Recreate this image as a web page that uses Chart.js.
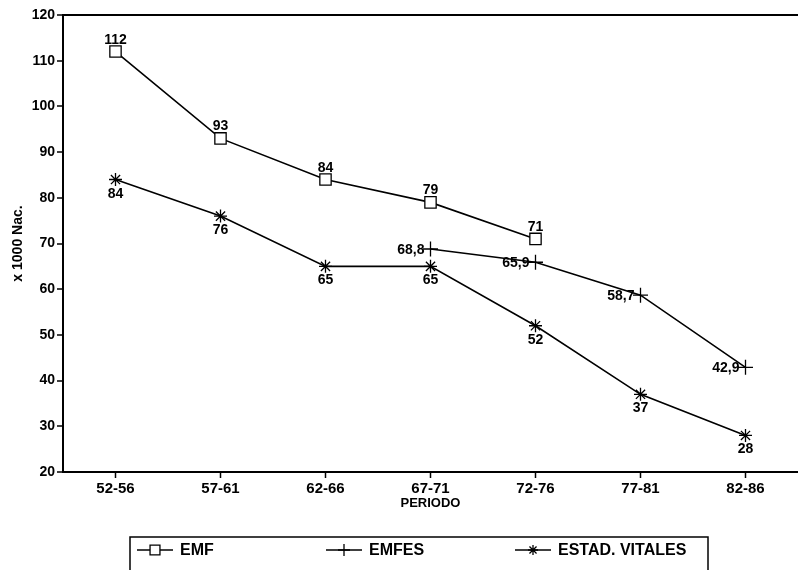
<!DOCTYPE html>
<html><head><meta charset="utf-8">
<script src="https://cdn.jsdelivr.net/npm/chart.js@4/dist/chart.umd.min.js"></script>
<style>html,body{margin:0;padding:0;background:#fff}</style>
</head><body>
<canvas id="c" width="798" height="570"></canvas>
<script>
const periods = ['52-56', '57-61', '62-66', '67-71', '72-76', '77-81', '82-86'];
const emf = [112, 93, 84, 79, 71, null, null];
const emfes = [null, null, null, 68.8, 65.9, 58.7, 42.9];
const estadVitales = [84, 76, 65, 65, 52, 37, 28];
const yMin = 20, yMax = 120, yStep = 10;
const yTitle = 'x 1000 Nac.';
const xTitle = 'PERIODO';

const FONT = '"Liberation Sans", Arial, Helvetica, sans-serif';

const valueLabels = {
  id: 'valueLabels',
  afterDatasetsDraw(chart) {
    const ctx = chart.ctx;
    ctx.save();
    ctx.fillStyle = '#000';
    ctx.font = 'bold 14px ' + FONT;
    chart.data.datasets.forEach((ds, i) => {
      const meta = chart.getDatasetMeta(i);
      meta.data.forEach((pt, j) => {
        const v = ds.data[j];
        if (v === null || v === undefined) return;
        const txt = ds.decimals ? v.toFixed(1).replace('.', ',') : String(v);
        if (ds.labelPos === 'above') {
          ctx.textAlign = 'center'; ctx.textBaseline = 'alphabetic';
          ctx.fillText(txt, pt.x, pt.y - 8);
        } else if (ds.labelPos === 'below') {
          ctx.textAlign = 'center'; ctx.textBaseline = 'alphabetic';
          ctx.fillText(txt, pt.x, pt.y + 18);
        } else {
          ctx.textAlign = 'right'; ctx.textBaseline = 'middle';
          ctx.fillText(txt, pt.x - 6, pt.y + 1);
        }
      });
    });
    ctx.restore();
  }
};

const boxLegend = {
  id: 'boxLegend',
  afterDraw(chart) {
    const ctx = chart.ctx;
    const left = 130, top = 537, right = 708, y = 550;
    ctx.save();
    ctx.strokeStyle = '#000';
    ctx.lineWidth = 1.5;
    ctx.strokeRect(left, top, right - left, 60);
    ctx.font = 'bold 16px ' + FONT;
    ctx.textAlign = 'left';
    ctx.textBaseline = 'middle';
    chart.data.datasets.forEach((ds, i) => {
      const x0 = 137 + i * 189;
      ctx.lineWidth = 1.3;
      ctx.beginPath();
      ctx.moveTo(x0, y); ctx.lineTo(x0 + 36, y);
      ctx.stroke();
      ctx.fillStyle = '#fff';
      Chart.helpers.drawPoint(ctx, { pointStyle: ds.pointStyle, radius: ds.legendRadius, borderWidth: 1.2, rotation: 0 }, x0 + 18, y);
      ctx.fillStyle = '#000';
      ctx.fillText(ds.label, x0 + 43, y + 1);
    });
    ctx.restore();
  }
};

const common = {
  borderColor: '#000', borderWidth: 1.6, pointBorderColor: '#000',
  pointBackgroundColor: '#fff', pointBorderWidth: 1.3, tension: 0, spanGaps: false,
  fill: false
};

new Chart(document.getElementById('c'), {
  type: 'line',
  data: {
    labels: periods,
    datasets: [
      Object.assign({ label: 'EMF', data: emf, pointStyle: 'rect', pointRadius: 8, legendRadius: 7, labelPos: 'above' }, common),
      Object.assign({ label: 'EMFES', data: emfes, pointStyle: 'cross', pointRadius: 7.5, legendRadius: 6, labelPos: 'left', decimals: true }, common),
      Object.assign({ label: 'ESTAD. VITALES', data: estadVitales, pointStyle: 'star', pointRadius: 6.5, legendRadius: 5, labelPos: 'below' }, common)
    ]
  },
  options: {
    responsive: false,
    animation: false,
    devicePixelRatio: 1,
    layout: { autoPadding: false, padding: { top: 15, bottom: 59, left: 0, right: -2 } },
    plugins: { legend: { display: false }, tooltip: { enabled: false } },
    scales: {
      x: {
        offset: true,
        grid: { drawOnChartArea: false, drawTicks: true, tickLength: 6, tickColor: '#000', tickWidth: 1.5 },
        border: { color: '#000', width: 2 },
        ticks: { color: '#000', font: { family: FONT, size: 15, weight: 'bold' }, padding: 2, maxRotation: 0 },
        title: { display: true, text: xTitle, color: '#000', font: { family: FONT, size: 13, weight: 'bold' }, padding: { top: 0, bottom: 0 } },
        afterFit(s) { s.height = 39; }
      },
      y: {
        min: yMin, max: yMax,
        grid: {
          color: c => (c.tick && c.tick.value === yMax) ? '#000' : 'rgba(0,0,0,0)',
          lineWidth: c => (c.tick && c.tick.value === yMax) ? 2 : 0,
          tickColor: '#000', tickLength: 6, tickWidth: 1.5
        },
        border: { color: '#000', width: 2 },
        ticks: { stepSize: yStep, color: '#000', font: { family: FONT, size: 14, weight: 'bold' }, padding: 2 },
        title: { display: true, text: yTitle, color: '#000', font: { family: FONT, size: 14, weight: 'bold' }, padding: { top: 10, bottom: 0 } },
        afterFit(s) { s.width = 63; }
      }
    }
  },
  plugins: [valueLabels, boxLegend]
});
</script>
</body></html>
